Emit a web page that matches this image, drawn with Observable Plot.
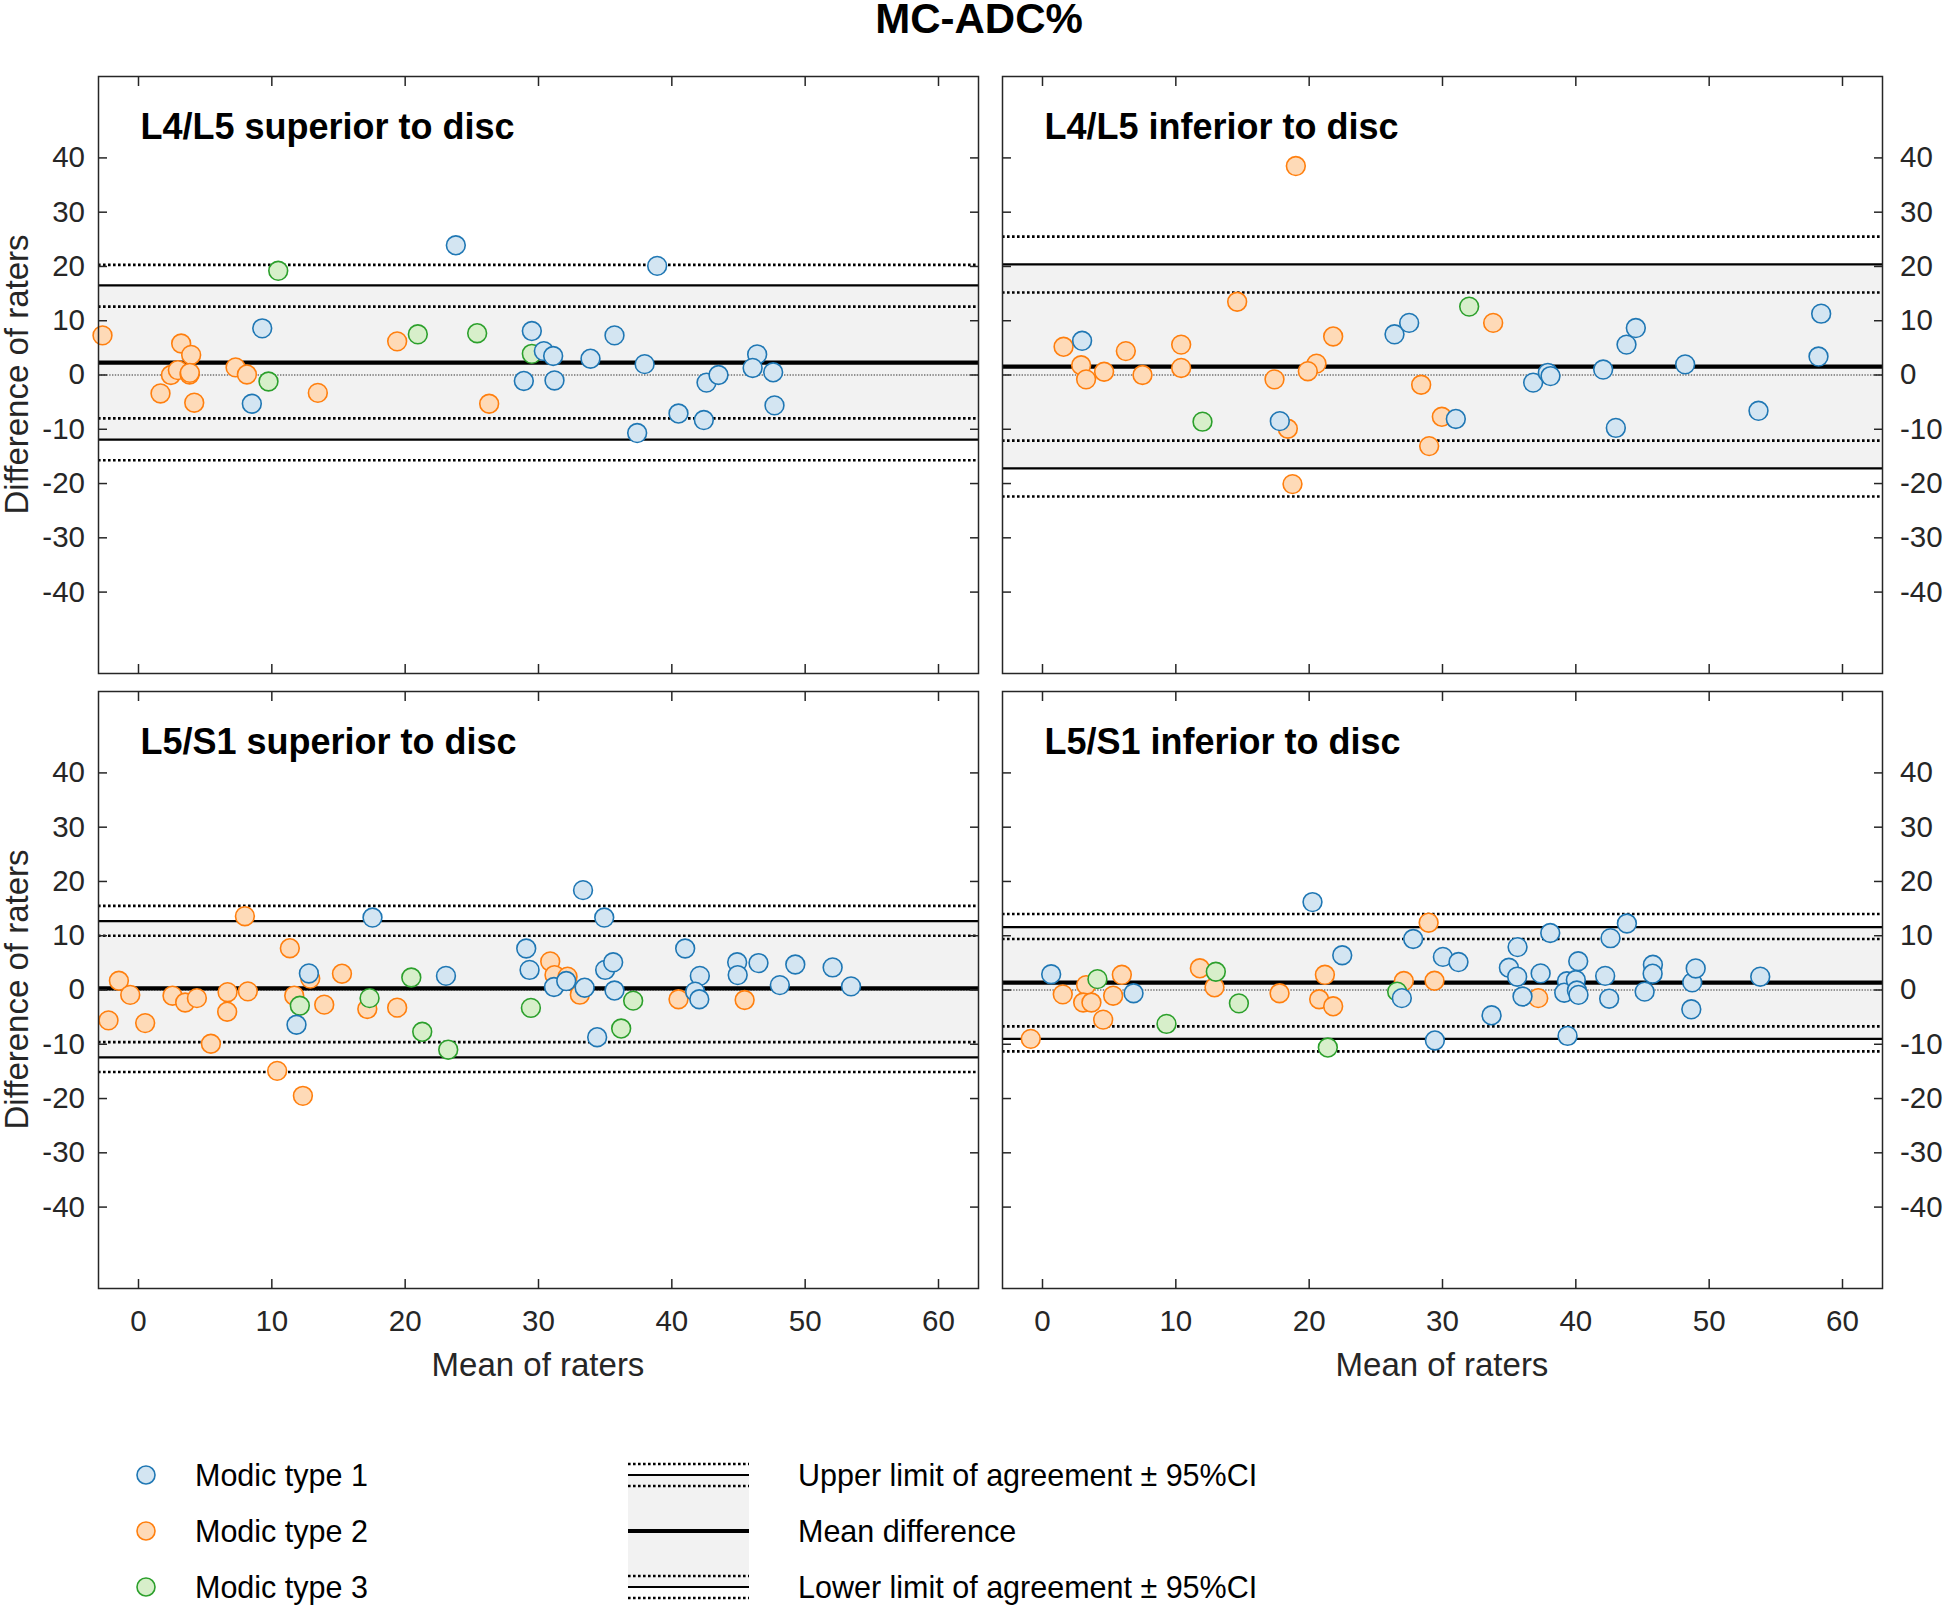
<!DOCTYPE html>
<html><head><meta charset="utf-8">
<script src="https://cdn.jsdelivr.net/npm/d3@7"></script>
<script src="https://cdn.jsdelivr.net/npm/@observablehq/plot@0.6"></script>
<style>
html,body{margin:0;padding:0;background:#fff;}
#root{position:relative;width:1944px;height:1605px;background:#fff;overflow:hidden;font-family:"Liberation Sans",Arial,Helvetica,sans-serif;}
#root > svg{position:absolute;}
</style></head>
<body><div id="root"></div>
<script>
// ---------------- DATA ----------------
const chartTitle = "MC-ADC%";
const panelTitles = ["L4/L5 superior to disc", "L4/L5 inferior to disc", "L5/S1 superior to disc", "L5/S1 inferior to disc"];
const xLabel = "Mean of raters";
const yLabel = "Difference of raters";
const xTicks = [0, 10, 20, 30, 40, 50, 60];
const yTicks = [-40, -30, -20, -10, 0, 10, 20, 30, 40];
const typeNames = ["Modic type 1", "Modic type 2", "Modic type 3"];
const lineNames = ["Upper limit of agreement \u00B1 95%CI", "Mean difference", "Lower limit of agreement \u00B1 95%CI"];

// Bland-Altman statistics per panel
const meanDiff   = [2.27, 1.53, 0.3, 1.35];
const upperLoA   = [16.5, 20.4, 12.7, 11.6];
const upperLoAHi = [20.3, 25.5, 15.5, 14.0];
const upperLoALo = [12.6, 15.2, 10.0, 9.4];
const lowerLoA   = [-11.9, -17.2, -12.4, -9.0];
const lowerLoAHi = [-8.0, -12.1, -9.6, -6.7];
const lowerLoALo = [-15.7, -22.4, -15.1, -11.3];

// L4/L5 superior to disc
const p1Mean = [-2.7, 3.2, 3.95, 2.43, 2.95, 3.83, 3.85, 1.65, 4.18, 7.28, 8.13, 13.45, 19.4, 26.3,
  10.48, 9.75, 20.95, 25.4, 29.5,
  9.28, 8.5, 23.8, 29.5, 28.9, 30.4, 31.1, 31.2, 33.9, 35.7, 37.96, 38.9, 37.4, 40.5, 42.4, 42.6, 43.5, 46.4, 46.06, 47.6, 47.7];
const p1Diff = [7.3, 5.8, 3.7, 0.0, 0.9, 0.1, 0.4, -3.4, -5.1, 1.4, 0.1, -3.3, 6.2, -5.3,
  19.2, -1.2, 7.5, 7.7, 3.9,
  8.6, -5.3, 23.9, 8.1, -1.1, 4.4, 3.5, -1.0, 3.0, 7.3, 2.0, 20.1, -10.7, -7.1, -8.3, -1.4, 0.0, 3.8, 1.3, 0.5, -5.6];
const p1Type = [2,2,2,2,2,2,2,2,2,2,2,2,2,2,
  3,3,3,3,3,
  1,1,1,1,1,1,1,1,1,1,1,1,1,1,1,1,1,1,1,1,1];

// L4/L5 inferior to disc
const p2Mean = [19.0, 1.58, 2.9, 3.27, 4.62, 6.25, 7.5, 10.4, 10.4, 14.6, 17.4, 18.4, 18.75, 20.55, 19.9, 21.8, 28.4, 29.95, 29.0, 33.8,
  12.0, 32.0,
  2.97, 17.8, 26.4, 27.5, 31.0, 36.8, 37.9, 38.1, 42.05, 43.0, 43.8, 44.5, 48.2, 53.7, 58.4, 58.2];
const p2Diff = [38.5, 5.2, 1.8, -0.8, 0.6, 4.4, 0.0, 5.6, 1.3, 13.5, -0.8, -9.9, -20.1, 2.1, 0.7, 7.1, -1.8, -7.7, -13.1, 9.6,
  -8.6, 12.6,
  6.3, -8.5, 7.5, 9.6, -8.1, -1.4, 0.4, -0.2, 1.0, -9.75, 5.6, 8.65, 1.96, -6.6, 11.3, 3.4];
const p2Type = [2,2,2,2,2,2,2,2,2,2,2,2,2,2,2,2,2,2,2,2,
  3,3,
  1,1,1,1,1,1,1,1,1,1,1,1,1,1,1,1];

// L5/S1 superior to disc
const p3Mean = [-2.25, -1.47, -0.62, 0.5, 2.55, 3.5, 4.38, 6.68, 6.65, 8.2, 7.98, 5.43, 10.4, 12.33, 11.35, 11.68, 12.88, 13.93, 15.26, 17.16, 19.4, 30.88, 31.2, 32.18, 33.1, 40.5, 45.46,
  12.1, 17.33, 20.46, 21.28, 23.23, 29.43, 37.1, 36.2,
  11.85, 12.78, 17.55, 23.06, 29.08, 29.33, 31.16, 32.08, 33.46, 33.34, 34.93, 35.0, 35.6, 35.7, 34.4, 41.0, 42.1, 41.75, 42.06, 44.9, 44.94, 46.5, 48.1, 49.26, 52.06, 53.44];
const p3Diff = [-5.6, 1.7, -0.9, -6.1, -1.05, -2.3, -1.5, -0.4, -4.0, -0.25, 13.6, -9.9, -14.9, -19.5, 7.7, -1.05, 2.1, -2.7, 3.0, -3.5, -3.25, 5.26, 2.75, 2.45, -0.86, -1.7, -1.84,
  -2.9, -1.5, 2.3, -7.7, -11.0, -3.3, -1.96, -7.1,
  -6.4, 3.05, 13.35, 2.6, 7.65, 3.7, 0.55, 1.65, 0.42, 18.4, 13.35, 3.7, 5.1, -0.1, -8.7, 7.65, 2.6, -0.3, -1.7, 5.1, 2.75, 4.96, 0.9, 4.7, 4.16, 0.67];
const p3Type = [2,2,2,2,2,2,2,2,2,2,2,2,2,2,2,2,2,2,2,2,2,2,2,2,2,2,2,
  3,3,3,3,3,3,3,3,
  1,1,1,1,1,1,1,1,1,1,1,1,1,1,1,1,1,1,1,1,1,1,1,1,1,1];

// L5/S1 inferior to disc
const p4Mean = [-0.88, 1.52, 3.27, 3.05, 3.67, 4.55, 5.3, 5.95, 11.8, 12.9, 17.78, 21.18, 20.75, 21.8, 27.1, 28.96, 29.4, 37.18,
  4.12, 9.3, 13.0, 14.73, 21.4, 26.6,
  0.65, 6.83, 20.25, 22.48, 26.95, 27.8, 30.03, 29.43, 31.2, 33.68, 34.98, 35.63, 35.6, 36.0, 37.36, 38.08, 39.38, 39.33, 39.13, 40.0, 40.18, 40.08, 40.2, 42.2, 42.6, 42.5, 43.83, 45.16, 45.78, 45.76, 48.73, 48.99, 48.66, 53.83];
const p4Diff = [-9.0, -0.8, 0.9, -2.3, -2.3, -5.46, -1.05, 2.8, 4.0, 0.5, -0.6, 2.8, -1.7, -3.0, 1.65, 12.4, 1.7, -1.5,
  2.0, -6.25, 3.36, -2.46, -10.6, -0.3,
  2.9, -0.6, 16.2, 6.4, -1.5, 9.4, 6.1, -9.3, 5.15, -4.66, 4.1, 7.9, 2.45, -1.2, 3.06, 10.5, -8.46, 1.6, -0.5, 1.83, 5.3, -0.1, -0.9, 2.6, 9.55, -1.6, 12.25, -0.3, 4.65, 3.0, 1.4, 3.97, -3.56, 2.45];
const p4Type = [2,2,2,2,2,2,2,2,2,2,2,2,2,2,2,2,2,2,
  3,3,3,3,3,3,
  1,1,1,1,1,1,1,1,1,1,1,1,1,1,1,1,1,1,1,1,1,1,1,1,1,1,1,1,1,1,1,1,1,1];

// ---------------- STYLE ----------------
const FONT = '"Liberation Sans", Arial, Helvetica, sans-serif';
const strokeColors = {1: "#1f77b4", 2: "#ff7f0e", 3: "#2ca02c"};
const fillColors = {1: "#d3e5f2", 2: "#fedab7", 3: "#d7efca"};
const drawOrder = [2, 3, 1];
const axisColor = "#262626";
const xDomain = [-3, 63];
const yDomain = [-55, 55];
const frameW = 880, frameH = 597;
const dotDash = "2.6,2.4";

const root = document.getElementById("root");

// overlay (title, axis titles, legend)
const ov = d3.select(root).append("svg")
  .attr("width", 1944).attr("height", 1605)
  .style("left", "0px").style("top", "0px")
  .attr("font-family", FONT);

ov.append("text").attr("x", 979).attr("y", 33).attr("text-anchor", "middle")
  .attr("font-size", 42).attr("font-weight", "bold").attr("fill", "#000").text(chartTitle);

[374.5, 989.5].forEach(cy => {
  ov.append("text").attr("transform", `translate(28,${cy}) rotate(-90)`)
    .attr("text-anchor", "middle").attr("font-size", 33).attr("fill", axisColor).text(yLabel);
});
[538, 1442].forEach(cx => {
  ov.append("text").attr("x", cx).attr("y", 1376).attr("text-anchor", "middle")
    .attr("font-size", 33).attr("fill", axisColor).text(xLabel);
});

// legend
const rowY = [1475, 1531, 1587];
typeNames.forEach((name, i) => {
  const t = i + 1;
  ov.append("circle").attr("cx", 146).attr("cy", rowY[i]).attr("r", 9)
    .attr("fill", fillColors[t]).attr("stroke", strokeColors[t]).attr("stroke-width", 1.6);
  ov.append("text").attr("x", 195).attr("y", rowY[i]).attr("dy", "0.35em")
    .attr("font-size", 30.5).attr("fill", "#000").text(name);
});
const lx1 = 628, lx2 = 749;
ov.append("rect").attr("x", lx1).attr("y", rowY[0]).attr("width", lx2 - lx1).attr("height", rowY[2] - rowY[0]).attr("fill", "#f2f2f2");
const legLine = (y, w, dash) => {
  const l = ov.append("line").attr("x1", lx1).attr("x2", lx2).attr("y1", y).attr("y2", y)
    .attr("stroke", "#000").attr("stroke-width", w);
  if (dash) l.attr("stroke-dasharray", dash);
};
legLine(rowY[0] - 11, 2.6, dotDash); legLine(rowY[0], 2.2); legLine(rowY[0] + 11, 2.6, dotDash);
legLine(rowY[1], 4.2);
legLine(rowY[2] - 11, 2.6, dotDash); legLine(rowY[2], 2.2); legLine(rowY[2] + 11, 2.6, dotDash);
lineNames.forEach((name, i) => {
  ov.append("text").attr("x", 798).attr("y", rowY[i]).attr("dy", "0.35em")
    .attr("font-size", 30.5).attr("fill", "#000").text(name);
});

// ---------------- PANELS ----------------
const fmt = d => String(d);
function makePanel(idx, means, diffs, types, left, bottom) {
  const rows = means.map((m, i) => ({x: m, y: diffs[i], type: types[i]}));
  const s = {mean: meanDiff[idx], up: upperLoA[idx], upHi: upperLoAHi[idx], upLo: upperLoALo[idx],
             lo: lowerLoA[idx], loHi: lowerLoAHi[idx], loLo: lowerLoALo[idx]};
  const mL = left ? 98 : 12, mR = left ? 12 : 62, mT = bottom ? 9 : 20, mB = bottom ? 80 : 9;
  const dotted = {stroke: "#000", strokeWidth: 2.6, strokeDasharray: dotDash};
  const marks = [
    Plot.rect([s], {y1: "lo", y2: "up", fill: "#f2f2f2"}),
    Plot.ruleY([0], {stroke: "#333", strokeWidth: 1.2, strokeDasharray: "1.4,1.4"}),
    Plot.ruleY([s], {y: "upHi", ...dotted}),
    Plot.ruleY([s], {y: "upLo", ...dotted}),
    Plot.ruleY([s], {y: "loHi", ...dotted}),
    Plot.ruleY([s], {y: "loLo", ...dotted}),
    Plot.ruleY([s], {y: "up", stroke: "#000", strokeWidth: 2.2}),
    Plot.ruleY([s], {y: "lo", stroke: "#000", strokeWidth: 2.2}),
    Plot.ruleY([s], {y: "mean", stroke: "#000", strokeWidth: 4.2}),
    ...drawOrder.map(t => Plot.dot(rows.filter(d => d.type === t),
      {x: "x", y: "y", r: 9.4, fill: fillColors[t], stroke: strokeColors[t], strokeWidth: 1.6})),
    Plot.frame({stroke: axisColor, strokeWidth: 1.5}),
    // inward ticks on all four sides
    Plot.axisX({ticks: xTicks, anchor: "top", tickSize: 9, dy: 9, fill: "none", stroke: axisColor, strokeWidth: 1.5, label: null}),
    Plot.axisX({ticks: xTicks, anchor: "bottom", tickSize: 9, dy: -9, fill: "none", stroke: axisColor, strokeWidth: 1.5, label: null}),
    Plot.axisY({ticks: yTicks, anchor: "left", tickSize: 9, dx: 9, fill: "none", stroke: axisColor, strokeWidth: 1.5, label: null}),
    Plot.axisY({ticks: yTicks, anchor: "right", tickSize: 9, dx: -9, fill: "none", stroke: axisColor, strokeWidth: 1.5, label: null}),
    // tick labels
    left
      ? Plot.axisY({ticks: yTicks, anchor: "left", tickSize: 0, tickPadding: 13.5, fontSize: 29.5, fill: axisColor, label: null, tickFormat: fmt})
      : Plot.axisY({ticks: yTicks, anchor: "right", tickSize: 0, tickPadding: 17.5, fontSize: 29.5, fill: axisColor, label: null, tickFormat: fmt}),
    Plot.text([panelTitles[idx]], {text: d => d, frameAnchor: "top-left", dx: 42, dy: 62, lineAnchor: "bottom",
      textAnchor: "start", fontSize: 36, fontWeight: "bold", fill: "#000"})
  ];
  if (bottom) {
    marks.push(Plot.axisX({ticks: xTicks, anchor: "bottom", tickSize: 0, tickPadding: 22, fontSize: 29.5, fill: axisColor, label: null, tickFormat: fmt}));
  }
  const svg = Plot.plot({
    width: mL + frameW + mR,
    height: mT + frameH + mB,
    marginLeft: mL, marginRight: mR, marginTop: mT, marginBottom: mB,
    x: {domain: xDomain, label: null},
    y: {domain: yDomain, label: null},
    style: {background: "transparent", overflow: "visible", fontFamily: FONT, maxWidth: "none"},
    marks
  });
  const frameLeft = left ? 98 : 1002;
  const frameTop = bottom ? 691 : 76;
  svg.style.position = "absolute";
  svg.style.left = (frameLeft - mL) + "px";
  svg.style.top = (frameTop - mT) + "px";
  root.appendChild(svg);
}

makePanel(0, p1Mean, p1Diff, p1Type, true, false);
makePanel(1, p2Mean, p2Diff, p2Type, false, false);
makePanel(2, p3Mean, p3Diff, p3Type, true, true);
makePanel(3, p4Mean, p4Diff, p4Type, false, true);
</script>
</body></html>
